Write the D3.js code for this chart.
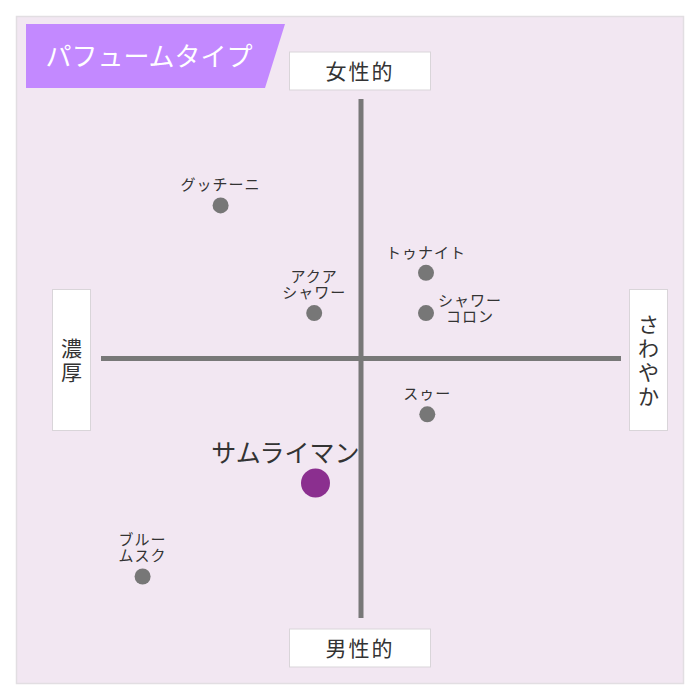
<!DOCTYPE html>
<html>
<head>
<meta charset="utf-8">
<script src="https://cdn.jsdelivr.net/npm/d3@7"></script>
<style>
  body { margin: 0; background: #fff; }
  svg text { font-family: "Noto Sans CJK JP", "Noto Sans", sans-serif; fill: #333; }
</style>
</head>
<body>
<svg id="chart"></svg>
<script>
// perfume map data
const title = "パフュームタイプ";
const axisTop = "女性的";
const axisBottom = "男性的";
const axisLeft = "濃厚";
const axisRight = "さわやか";

const perfumeNames = [["グッチーニ"], ["トゥナイト"], ["アクア", "シャワー"], ["シャワー", "コロン"], ["スゥー"], ["ブルー", "ムスク"]];
const perfumeX = [-5.4, 2.5, -1.8, 2.5, 2.55, -8.4];
const perfumeY = [5.9, 3.3, 1.75, 1.75, -2.15, -8.4];

const mainName = "サムライマン";
const mainX = -1.75;
const mainY = -4.8;

// where each label sits relative to its dot
const labelSide = ["top", "top", "top", "right", "top", "top"];

var svg = d3.select("#chart").attr("width", 700).attr("height", 700);

var x = d3.scaleLinear().domain([-10, 10]).range([101, 621]);
var y = d3.scaleLinear().domain([-10, 10]).range([618, 99]);

// panel
svg.append("rect")
    .attr("x", 16.5).attr("y", 16.5)
    .attr("width", 667).attr("height", 667)
    .attr("fill", "#f2e7f2")
    .attr("stroke", "#e2dee2")
    .attr("stroke-width", 1.5);

// title banner
svg.append("path")
    .attr("d", "M26,24 L285,24 L265,88 L26,88 Z")
    .attr("fill", "#c389ff");
svg.append("text")
    .attr("x", 149).attr("y", 66)
    .attr("text-anchor", "middle")
    .style("font-size", "26px")
    .style("fill", "#fff")
    .text(title);

// cross axes
svg.append("line")
    .attr("x1", x(0)).attr("x2", x(0))
    .attr("y1", y(10)).attr("y2", y(-10))
    .attr("stroke", "#787878").attr("stroke-width", 5);
svg.append("line")
    .attr("x1", x(-10)).attr("x2", x(10))
    .attr("y1", y(0)).attr("y2", y(0))
    .attr("stroke", "#787878").attr("stroke-width", 5);

// axis label boxes
function hBox(cx, cy, label) {
    svg.append("rect")
        .attr("x", cx - 70.5).attr("y", cy - 19)
        .attr("width", 141).attr("height", 38)
        .attr("fill", "#fff").attr("stroke", "#d9d5d9");
    svg.append("text")
        .attr("x", cx).attr("y", cy)
        .attr("dy", "0.36em")
        .attr("text-anchor", "middle")
        .style("font-size", "21px")
        .style("letter-spacing", "2px")
        .text(label);
}

function vBox(cx, cy, label) {
    svg.append("rect")
        .attr("x", cx - 19).attr("y", cy - 70.5)
        .attr("width", 38).attr("height", 141)
        .attr("fill", "#fff").attr("stroke", "#d9d5d9");
    var chars = label.split("");
    var t = svg.append("text")
        .attr("text-anchor", "middle")
        .style("font-size", "21px");
    chars.forEach((c, i) => {
        t.append("tspan")
            .attr("x", cx)
            .attr("y", cy + (i - (chars.length - 1) / 2) * 24)
            .attr("dy", "0.36em")
            .text(c);
    });
}

hBox(360, 71, axisTop);
hBox(360, 648, axisBottom);
vBox(71.5, 360, axisLeft);
vBox(648.5, 360, axisRight);

// other perfumes
var dots = perfumeNames.map((n, i) => ({ name: n, x: perfumeX[i], y: perfumeY[i], side: labelSide[i] }));

svg.selectAll(".dot")
    .data(dots)
    .enter().append("circle")
    .attr("class", "dot")
    .attr("cx", (d) => x(d.x))
    .attr("cy", (d) => y(d.y))
    .attr("r", 8)
    .attr("fill", "#777");

dots.forEach((d) => {
    var cx = x(d.x), cy = y(d.y);
    var t = svg.append("text")
        .attr("text-anchor", "middle")
        .style("font-size", "15px")
        .style("letter-spacing", "1px");
    d.name.forEach((line, i) => {
        var n = d.name.length;
        var tx, ty;
        if (d.side == "right") {
            tx = cx + 44;
            ty = cy - 7 + i * 16;
        } else {
            tx = cx;
            ty = cy - 15 - (n - 1 - i) * 16;
        }
        t.append("tspan").attr("x", tx).attr("y", ty).text(line);
    });
});

// highlighted perfume
svg.append("circle")
    .attr("cx", x(mainX)).attr("cy", y(mainY))
    .attr("r", 14.5)
    .attr("fill", "#8b2f8f");
svg.append("text")
    .attr("x", x(mainX) - 30).attr("y", y(mainY) - 21)
    .attr("text-anchor", "middle")
    .style("font-size", "25px")
    .text(mainName);
</script>
</body>
</html>
